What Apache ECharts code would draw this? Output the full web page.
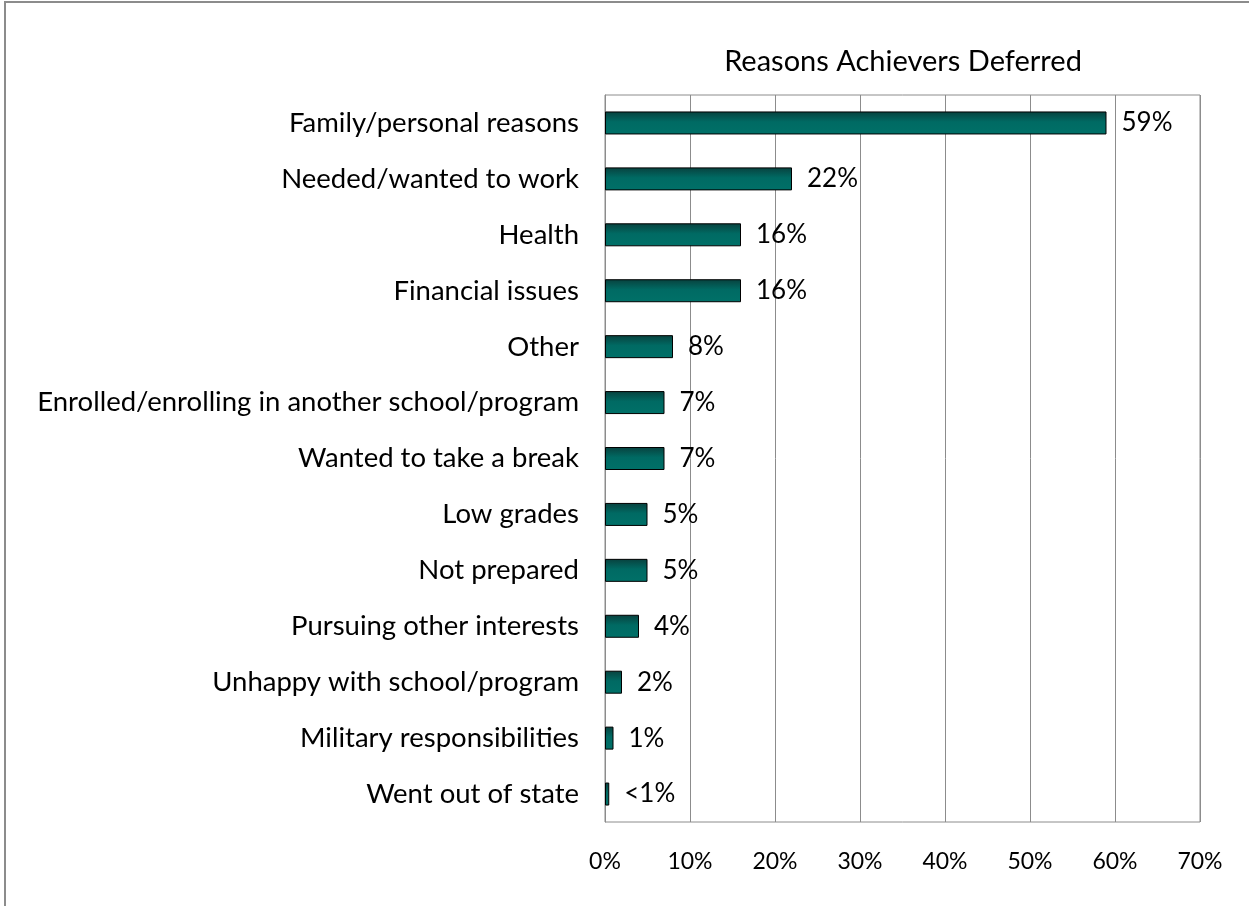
<!DOCTYPE html>
<html>
<head>
<meta charset="utf-8">
<style>
  html, body { margin: 0; padding: 0; background: #fff; }
  #chart { width: 1249px; height: 906px; }
</style>
<script src="https://cdn.jsdelivr.net/npm/echarts@6/dist/echarts.min.js"></script>
</head>
<body>
<div id="chart"></div>
<script>
// Reasons for deferral, largest first
const categories = [
  'Family/personal reasons',
  'Needed/wanted to work',
  'Health',
  'Financial issues',
  'Other',
  'Enrolled/enrolling in another school/program',
  'Wanted to take a break',
  'Low grades',
  'Not prepared',
  'Pursuing other interests',
  'Unhappy with school/program',
  'Military responsibilities',
  'Went out of state'
];
// Share of achievers (%) per reason
const values = [59, 22, 16, 16, 8, 7, 7, 5, 5, 4, 2, 1, 0.5];
// Value labels printed beside each bar
const valueLabels = ['59%', '22%', '16%', '16%', '8%', '7%', '7%', '5%', '5%', '4%', '2%', '1%', '<1%'];

const FONT = 'Lato, "Open Sans", sans-serif';

const chart = echarts.init(document.getElementById('chart'), null, { renderer: 'canvas' });

chart.setOption({
  backgroundColor: '#ffffff',
  animation: false,
  title: {
    text: 'Reasons Achievers Deferred',
    left: 898,
    top: 42,
    textAlign: 'center',
    textStyle: { fontFamily: FONT, fontSize: 29, fontWeight: 'normal', color: '#000' }
  },
  graphic: [{
    type: 'rect',
    shape: { x: 5, y: 2, width: 1260, height: 920 },
    style: { fill: 'none', stroke: '#8c8c8c', lineWidth: 2 },
    silent: true
  }],
  grid: {
    left: 605, right: 49, top: 95, bottom: 84,
    show: true, borderColor: '#8c8c8c', borderWidth: 1,
    containLabel: false
  },
  xAxis: {
    type: 'value',
    min: 0, max: 70, interval: 10,
    axisLabel: {
      formatter: '{value}%', fontFamily: FONT, fontSize: 23, color: '#000', margin: 28
    },
    axisLine: { show: false },
    axisTick: { show: false },
    splitLine: { show: true, lineStyle: { color: '#8c8c8c', width: 1 } }
  },
  yAxis: {
    type: 'category',
    data: categories,
    inverse: true,
    axisLine: { show: true, lineStyle: { color: '#8c8c8c' } },
    axisTick: { show: false },
    axisLabel: { fontFamily: FONT, fontSize: 27.5, color: '#000', margin: 26 }
  },
  series: [{
    type: 'bar',
    data: values,
    barWidth: 23,
    itemStyle: {
      color: new echarts.graphic.LinearGradient(0, 0, 0, 1, [
        { offset: 0, color: '#08413e' },
        { offset: 0.45, color: '#006a63' },
        { offset: 1, color: '#007068' }
      ]),
      borderColor: '#000',
      borderWidth: 1
    },
    label: {
      show: true,
      position: 'right',
      distance: 15,
      fontFamily: FONT,
      fontSize: 26,
      color: '#000',
      formatter: (p) => valueLabels[p.dataIndex]
    }
  }]
});
</script>
</body>
</html>
